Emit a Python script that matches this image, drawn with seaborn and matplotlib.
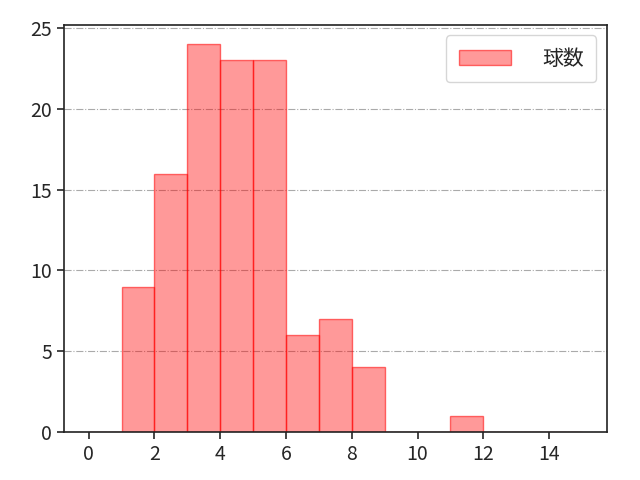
import numpy as np
import pandas as pd
import matplotlib
matplotlib.use("Agg")
import matplotlib.pyplot as plt
import seaborn as sns

# bin left edges and counts per bin (width 1)
bin_left = [0, 1, 2, 3, 4, 5, 6, 7, 8, 9, 10, 11, 12, 13, 14]
counts = [0, 9, 16, 24, 23, 23, 6, 7, 4, 0, 0, 1, 0, 0, 0]
label = "球数"

sns.set_style("ticks")
plt.rcParams['font.family'] = ['Noto Sans CJK JP', 'DejaVu Sans']

df = pd.DataFrame({"x": [b + 0.5 for b in bin_left], "w": counts})

fig, ax = plt.subplots(figsize=(6.4, 4.8), dpi=100)
fig.subplots_adjust(left=0.1, right=0.948, bottom=0.1, top=0.948)

sns.histplot(data=df, x="x", weights="w", binwidth=1, binrange=(0, 15),
             color="red", alpha=0.4, edgecolor=(1, 0, 0, 0.55), linewidth=1,
             label=label, ax=ax)

ax.grid(axis="y", linestyle="-.", color="#aaaaaa", linewidth=0.8)
ax.set_axisbelow(True)
ax.set_xlabel("")
ax.set_ylabel("")
ax.set_xticks(range(0, 16, 2))
ax.set_yticks(range(0, 26, 5))
ax.tick_params(labelsize=14, width=1.2, length=5)
for s in ax.spines.values():
    s.set_linewidth(1.2)
    s.set_color("#222222")
ax.legend(loc="upper right", fontsize=15, handlelength=2.5, handletextpad=1.5,
          borderpad=0.6, edgecolor="#cccccc")

plt.savefig("out.png")
